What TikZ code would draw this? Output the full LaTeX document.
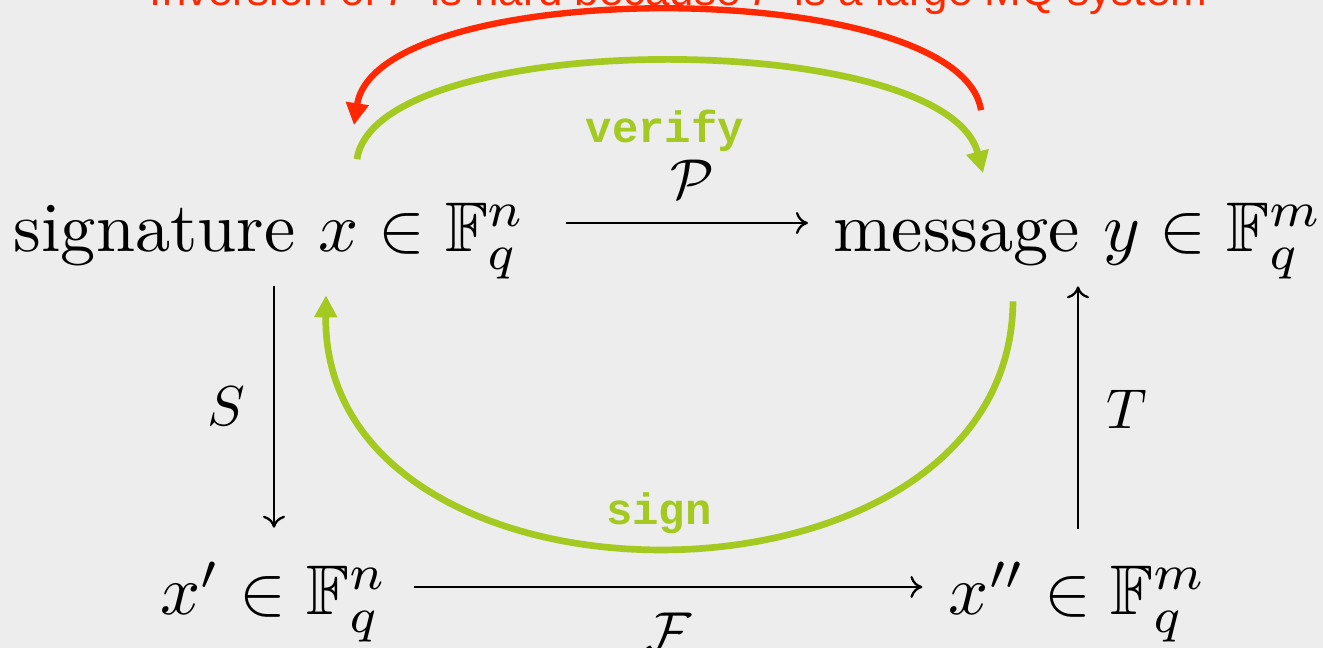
\documentclass[tikz,border=0pt]{standalone}
\usepackage{amsmath}
\usepackage{amssymb}
\usepackage{fontspec}
\newfontfamily\titlefont{Liberation Sans}
\newfontfamily\codefont{Liberation Mono}
\usetikzlibrary{arrows.meta,calc}
\definecolor{bgray}{HTML}{EDEDED}
\definecolor{signgreen}{HTML}{A4C920}
\definecolor{hardred}{HTML}{FF2800}

\begin{document}
\begin{tikzpicture}[
  obj/.style={inner sep=0pt, anchor=base, font=\fontsize{10}{12}\selectfont, scale=4, transform shape},
  lbl/.style={inner sep=0pt, font=\fontsize{10}{12}\selectfont, scale=3.2, transform shape},
  cmd/.style={inner sep=0pt, anchor=base, font=\fontsize{25}{30}\codefont\bfseries, text=signgreen},
  cdarr/.style={-{To[length=0.24cm,width=0.44cm]}, line width=1.3pt, black},
  garr/.style={-{Triangle[length=0.44cm,width=0.44cm]}, line width=3.8pt, signgreen},
  rarr/.style={-{Triangle[length=0.44cm,width=0.44cm]}, line width=3.6pt, hardred}
]
  \fill[bgray] (0,0) rectangle (26.46,12.96);
  \useasboundingbox (0,0) rectangle (26.46,12.96);

  % the four spaces
  \node[obj] (sig) at (5.4,7.92) {signature $x\in\mathbb{F}_q^n$};
  \node[obj] (msg) at (21.56,7.92) {message $y\in\mathbb{F}_q^m$};
  \node[obj] (x1) at (5.48,0.66) {$x'\in\mathbb{F}_q^n$};
  \node[obj] (x2) at (21.56,0.66) {$x''\in\mathbb{F}_q^m$};

  % the maps (label offsets are in the scaled frame)
  \draw[cdarr, shorten <=0.76cm, shorten >=0.48cm] ([yshift=0.58cm]sig.base east) -- ([yshift=0.58cm]msg.base west)
    node[lbl, pos=0.54, above=0.13cm] (P) {$\mathcal{P}$};
  \draw[cdarr, shorten <=0.12cm, shorten >=0.66cm] (x1.north |- sig.south) -- (x1.north)
    node[lbl, pos=0.45, left=0.16cm] (S) {$S$};
  \draw[cdarr, shorten <=0.5cm, shorten >=0.5cm] ([yshift=0.56cm]x1.base east) -- ([yshift=0.56cm]x2.base west)
    node[lbl, midway, below=0.14cm] (F) {$\mathcal{F}$};
  \draw[cdarr, shorten <=0.64cm, shorten >=0.12cm] (x2.north) -- (x2.north |- msg.south)
    node[lbl, pos=0.54, right=0.155cm] (T) {$T$};

  % verify, sign and the hard inversion
  \draw[garr] ([shift={(1.74,0.86)}]sig.north) .. controls +(0.4,2.64) and +(-0.76,2.92) .. ([shift={(-1.9,0.58)}]msg.north);
  \node[cmd] (verify) at (13.3,10.1) {verify};
  \draw[garr] ([shift={(-1.3,-0.42)}]msg.south) .. controls +(-0.06,-6.58) and +(-0.08,-6.7) .. ([shift={(1.12,-0.3)}]sig.south);
  \node[cmd] (sign) at (13.18,2.46) {sign};
  \draw[rarr] ([shift={(-1.94,1.84)}]msg.north) .. controls +(-0.42,2.7) and +(0.46,3.0) .. ([shift={(1.68,1.54)}]sig.north);
  \node[inner sep=0pt, anchor=base, font=\fontsize{25}{30}\titlefont, text=hardred] (hard) at (13.57,12.84)
    {Inversion of \textit{P} is hard because \textit{P} is a large MQ system};
\end{tikzpicture}
\end{document}
